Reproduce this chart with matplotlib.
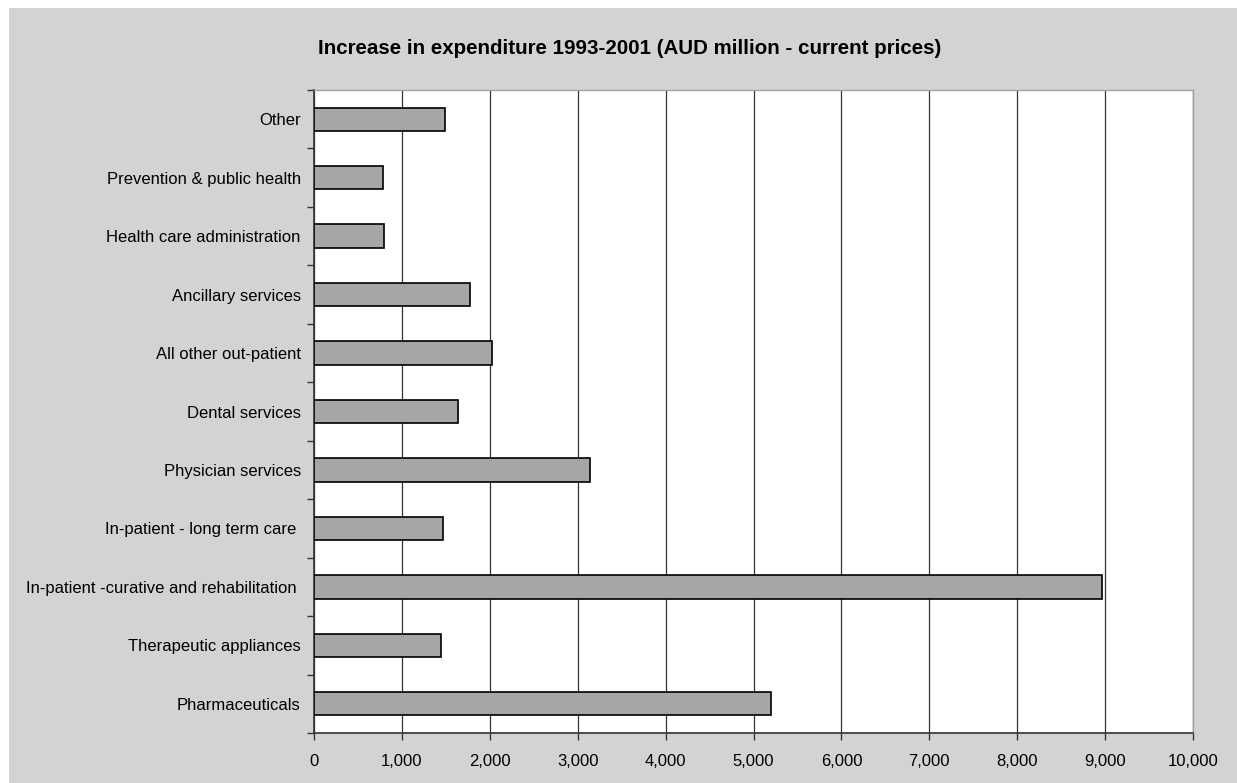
import matplotlib.pyplot as plt
from matplotlib.patches import Rectangle
from matplotlib.ticker import FuncFormatter, MultipleLocator

# categories from bottom to top, as drawn
categories = [
    'Pharmaceuticals',
    'Therapeutic appliances',
    'In-patient -curative and rehabilitation ',
    'In-patient - long term care ',
    'Physician services',
    'Dental services',
    'All other out-patient',
    'Ancillary services',
    'Health care administration',
    'Prevention & public health',
    'Other',
]
increase = [5200, 1445, 8960, 1470, 3140, 1640, 2020, 1775, 800, 790, 1490]

plt.rcParams['font.family'] = ['Liberation Sans', 'DejaVu Sans']

fig = plt.figure(figsize=(12.37, 7.83), dpi=100, facecolor='white')
# grey chart area (thin white strip on top and left)
fig.patches.append(Rectangle((9 / 1237, 0), 1, (783 - 8) / 783,
                             transform=fig.transFigure, facecolor='#d3d3d3',
                             edgecolor='none', zorder=-10))

ax = fig.add_axes([314 / 1237, 50 / 783, 879 / 1237, 643 / 783])
ax.set_facecolor('white')

pos = list(range(len(categories)))
ax.barh(pos, increase, height=0.4, color='#a6a6a6', edgecolor='black',
        linewidth=1.2, zorder=3)

ax.set_xlim(0, 10000)
ax.set_ylim(-0.5, len(categories) - 0.5)
ax.xaxis.set_major_locator(MultipleLocator(1000))
ax.xaxis.set_major_formatter(FuncFormatter(lambda v, p: f'{int(v):,}'))
ax.grid(axis='x', color='#333333', linewidth=0.9, zorder=1)

ax.set_yticks(pos)
ax.set_yticklabels(categories)
ax.set_yticks([p - 0.5 for p in pos] + [len(categories) - 0.5], minor=True)
ax.tick_params(axis='y', which='major', length=0, pad=9.5, labelsize=12)
ax.tick_params(axis='y', which='minor', length=5, width=1, color='#333333')
ax.tick_params(axis='x', length=5, width=1, color='#333333', pad=10,
               labelsize=12)

for side in ['left', 'bottom']:
    ax.spines[side].set_color('#333333')
    ax.spines[side].set_linewidth(1.2)
for side in ['top', 'right']:
    ax.spines[side].set_color('#a0a0a0')
    ax.spines[side].set_linewidth(1)

fig.text(630 / 1237, 1 - 48 / 783,
         'Increase in expenditure 1993-2001 (AUD million - current prices)',
         ha='center', va='center', fontsize=14.8, fontweight='bold')

fig.savefig('out.png', dpi=100, facecolor=fig.get_facecolor())
